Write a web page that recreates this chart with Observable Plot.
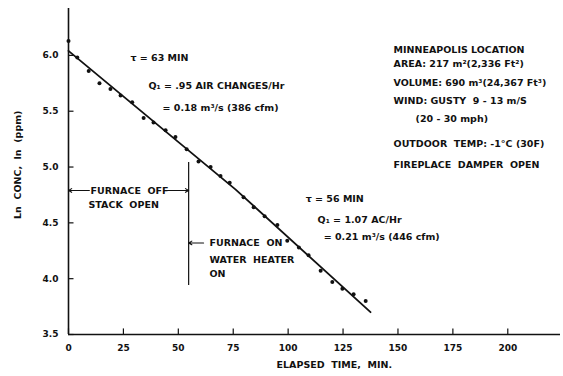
<!DOCTYPE html>
<html><head><meta charset="utf-8">
<script src="https://cdn.jsdelivr.net/npm/d3@7"></script>
<script src="https://cdn.jsdelivr.net/npm/@observablehq/plot@0.6"></script>
<style>
body{margin:0;background:#fff;}
svg{font-family:"DejaVu Sans",sans-serif;}
</style></head><body><div id="chart"></div>
<script>
// measured points: elapsed time (min), ln concentration
const times = [0,4.0,9.2,14.1,19.1,23.7,29.0,34.2,38.7,44.2,48.7,53.8,59.2,64.7,69.2,73.4,79.7,84.3,89.3,95.1,99.6,104.9,109.3,114.8,120.1,124.7,129.8,135.3];
const lnConc = [6.13,5.98,5.86,5.75,5.70,5.64,5.58,5.44,5.40,5.33,5.27,5.16,5.05,5.00,4.92,4.86,4.73,4.64,4.56,4.48,4.34,4.28,4.21,4.07,3.97,3.91,3.86,3.80];
// hand-drawn decay line as traced (start, middle, end)
const fitT = [0,76,137.5];
const fitV = [6.04,4.80,3.70];
const xTicks = [0,25,50,75,100,125,150,175,200];
const yTicks = [3.5,4.0,4.5,5.0,5.5,6.0];

const pts = times.map((t,i)=>({t, v: lnConc[i]}));
const fit = fitT.map((t,i)=>({t, v: fitV[i]}));

const notes = [
  {t:28.2, v:5.98, s:"τ = 63 MIN"},
  {t:36.4, v:5.73, s:"Q₁ = .95 AIR CHANGES/Hr"},
  {t:42.8, v:5.53, s:"= 0.18 m³/s (386 cfm)"},
  {t:148, v:6.045, s:"MINNEAPOLIS LOCATION"},
  {t:148, v:5.925, s:"AREA: 217 m²(2,336 Ft²)"},
  {t:148, v:5.755, s:"VOLUME: 690 m³(24,367 Ft³)"},
  {t:148, v:5.595, s:"WIND: GUSTY  9 - 13 m/S"},
  {t:158, v:5.435, s:"(20 - 30 mph)"},
  {t:148, v:5.21, s:"OUTDOOR  TEMP: -1°C (30F)"},
  {t:148, v:5.02, s:"FIREPLACE  DAMPER  OPEN"},
  {t:108, v:4.71, s:"τ = 56 MIN"},
  {t:113.4, v:4.53, s:"Q₁ = 1.07 AC/Hr"},
  {t:116.2, v:4.37, s:"= 0.21 m³/s (446 cfm)"},
  {t:9.1, v:4.66, s:"STACK  OPEN"},
  {t:64.2, v:4.32, s:"FURNACE  ON"},
  {t:64.2, v:4.17, s:"WATER  HEATER"},
  {t:64.2, v:4.04, s:"ON"}
];
const arrows = [
  {x1:9.5, x2:0, y:4.79},
  {x1:45, x2:54.7, y:4.79},
  {x1:61.5, x2:54.7, y:4.32}
];

const chart = Plot.plot({
  width:563, height:376,
  marginLeft:68, marginRight:3, marginTop:8, marginBottom:42,
  style:{fontFamily:"DejaVu Sans, sans-serif", fontSize:"9px", color:"#111"},
  x:{domain:[0,224]},
  y:{domain:[3.5,6.42]},
  marks:[
    Plot.axisX({ticks:xTicks, tickSize:0, tickPadding:10, label:null, tickFormat:d=>String(d), fontWeight:"bold"}),
    Plot.axisY({ticks:yTicks, tickSize:0, tickPadding:10, label:null, tickFormat:d=>d.toFixed(1), fontWeight:"bold"}),
    Plot.ruleX([0], {y1:3.5, y2:6.42, strokeWidth:1.6, stroke:"#111"}),
    Plot.ruleY([3.5], {x1:0, x2:224, strokeWidth:1.6, stroke:"#111"}),
    Plot.ruleX(xTicks, {y1:3.5, y2:3.55, stroke:"#111", strokeWidth:1.2}),
    Plot.ruleY(yTicks, {x1:0, x2:2.5, stroke:"#111", strokeWidth:1.2}),
    Plot.line(fit, {x:"t", y:"v", stroke:"#111", strokeWidth:1.8}),
    Plot.dot(pts, {x:"t", y:"v", r:2, fill:"#111", stroke:"none"}),
    Plot.ruleX([54.7], {y1:3.94, y2:5.04, stroke:"#111", strokeWidth:1.2}),
    Plot.arrow(arrows, {x1:"x1", x2:"x2", y1:"y", y2:"y", stroke:"#111", strokeWidth:1.1, headLength:5}),
    Plot.text(["FURNACE  OFF"], {x:27.8, y:4.79, text:d=>d, fontSize:9.5, fontWeight:"bold", fill:"#111"}),
    Plot.text(notes, {x:"t", y:"v", text:"s", textAnchor:"start", fontSize:9.5, fontWeight:"bold", fill:"#111"}),
    Plot.text(["ELAPSED  TIME,  MIN."], {x:121, y:3.23, text:d=>d, fontSize:9.5, fontWeight:"bold", fill:"#111"}),
    Plot.text(["Ln  CONC,  ln  (ppm)"], {x:-22.8, y:5.02, text:d=>d, rotate:-90, fontSize:9.5, fontWeight:"bold", fill:"#111"})
  ]
});
document.getElementById("chart").appendChild(chart);
</script></body></html>
